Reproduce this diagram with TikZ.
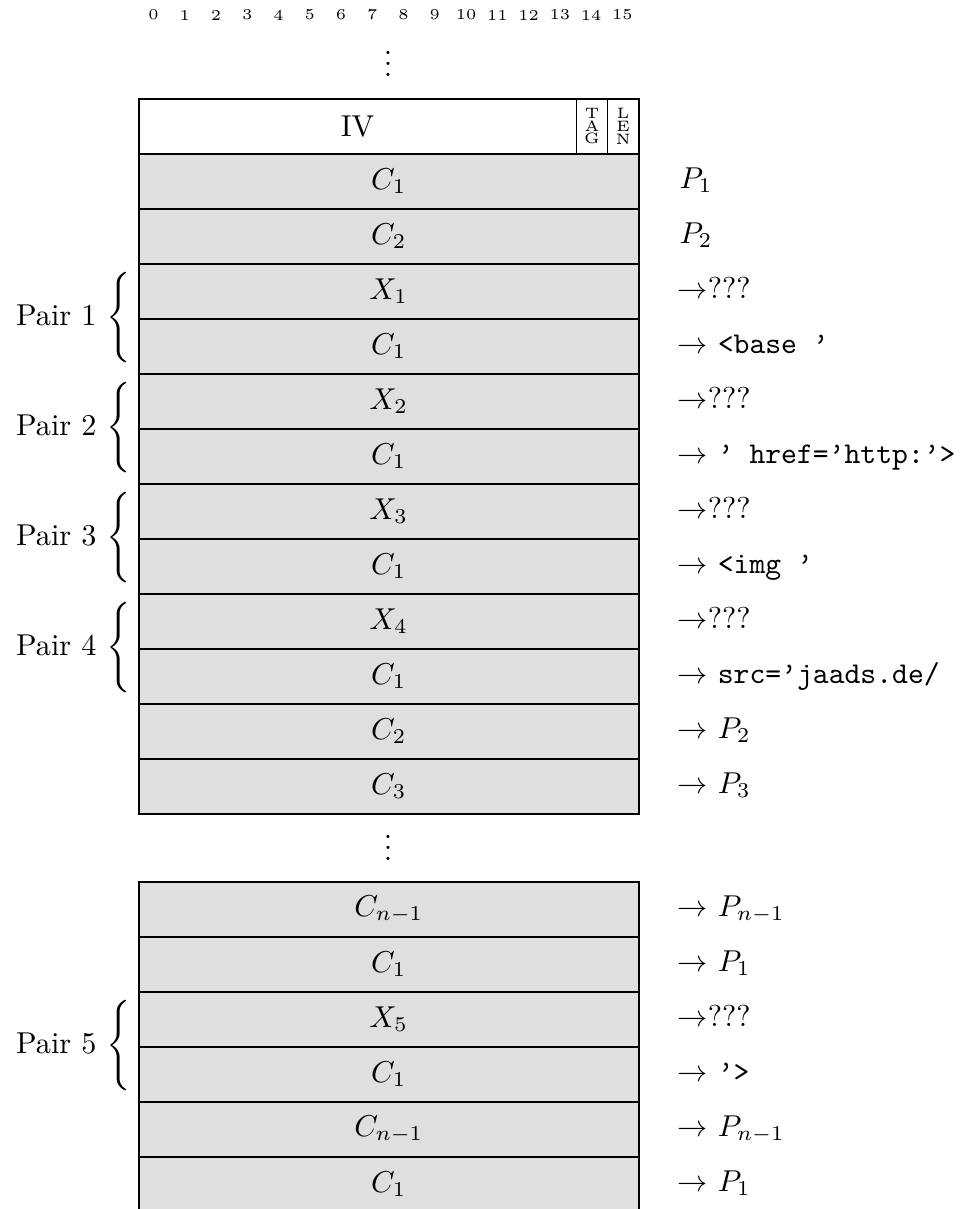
\documentclass[tikz,border=0pt]{standalone}
\begin{document}
\def\unitpx{0.011638cm}
\begin{tikzpicture}[x=\unitpx,y=-\unitpx,
  cell/.style={draw, line width=0.5pt, fill=gray!25, minimum width=500*\unitpx,
    minimum height=55*\unitpx, inner sep=0pt, anchor=north west},
  ivcell/.style={draw, line width=0.5pt, fill=white, minimum height=55*\unitpx,
    inner sep=0pt, anchor=north west},
  tinycol/.style={align=center, font=\fontsize{5}{4.2}\selectfont},
  rlab/.style={anchor=base west, inner sep=0pt},
  pairlab/.style={anchor=east, inner sep=0pt},
  ruler/.style={font=\tiny, inner sep=0pt},
  vdotsnode/.style={inner sep=0pt}]
\useasboundingbox (0,0) rectangle (969,1209);

% column numbers
\foreach \n in {0,...,15}
  \node[ruler] (col\n) at ({153.6+31.25*\n},15) {\n};

% continuation dots
\newcommand{\threedots}{\vbox{\baselineskip=3.6pt\lineskiplimit=-5pt
  \hbox{.}\hbox{.}\hbox{.}}}
\node[vdotsnode] (dotsA) at (388,64) {\threedots};

% header: IV, TAG, LEN
\node[ivcell, minimum width=437.6*\unitpx] (iv) at (138,98) {IV};
\node[ivcell, tinycol, minimum width=31.3*\unitpx] (tag) at (575.6,98) {T\\A\\G};
\node[ivcell, tinycol, minimum width=31.1*\unitpx] (len) at (606.9,98) {L\\E\\N};

% upper block of ciphertext blocks
\node[cell] (u1)  at (138,153) {$C_1$};
\node[cell] (u2)  at (138,208) {$C_2$};
\node[cell] (u3)  at (138,263) {$X_1$};
\node[cell] (u4)  at (138,318) {$C_1$};
\node[cell] (u5)  at (138,373) {$X_2$};
\node[cell] (u6)  at (138,428) {$C_1$};
\node[cell] (u7)  at (138,483) {$X_3$};
\node[cell] (u8)  at (138,538) {$C_1$};
\node[cell] (u9)  at (138,593) {$X_4$};
\node[cell] (u10) at (138,648) {$C_1$};
\node[cell] (u11) at (138,703) {$C_2$};
\node[cell] (u12) at (138,758) {$C_3$};

% decrypted plaintext, upper block
\node[rlab] (p1)  at (679,188) {$P_1$};
\node[rlab] (p2)  at (679,243) {$P_2$};
\node[rlab] (p3)  at (677,298) {$\rightarrow$???};
\node[rlab] (p4)  at (677,353) {$\rightarrow$ \texttt{<base ’}};
\node[rlab] (p5)  at (677,408) {$\rightarrow$???};
\node[rlab] (p6)  at (677,463) {$\rightarrow$ \texttt{’ href=’http:’>}};
\node[rlab] (p7)  at (677,518) {$\rightarrow$???};
\node[rlab] (p8)  at (677,573) {$\rightarrow$ \texttt{<img ’}};
\node[rlab] (p9)  at (677,628) {$\rightarrow$???};
\node[rlab] (p10) at (677,683) {$\rightarrow$ \texttt{src=’jaads.de/}};
\node[rlab] (p11) at (677,738) {$\rightarrow$ $P_2$};
\node[rlab] (p12) at (677,793) {$\rightarrow$ $P_3$};

\node[vdotsnode] (dotsB) at (388,848) {\threedots};

% lower block of ciphertext blocks
\node[cell] (l1) at (138,881)  {$C_{n-1}$};
\node[cell] (l2) at (138,936)  {$C_1$};
\node[cell] (l3) at (138,991)  {$X_5$};
\node[cell] (l4) at (138,1046) {$C_1$};
\node[cell] (l5) at (138,1101) {$C_{n-1}$};
\node[cell] (l6) at (138,1156) {$C_1$};

% decrypted plaintext, lower block
\node[rlab] (q1) at (677,916)  {$\rightarrow$ $P_{n-1}$};
\node[rlab] (q2) at (677,971)  {$\rightarrow$ $P_1$};
\node[rlab] (q3) at (677,1026) {$\rightarrow$???};
\node[rlab] (q4) at (677,1081) {$\rightarrow$ \texttt{’>}};
\node[rlab] (q5) at (677,1136) {$\rightarrow$ $P_{n-1}$};
\node[rlab] (q6) at (677,1191) {$\rightarrow$ $P_1$};

% pair braces
\newcommand{\pairbrace}{$\left\{\rule[-11.75pt]{0pt}{28.5pt}\right.$}
\node[pairlab] (pair1) at (135,318)  {Pair 1 \pairbrace};
\node[pairlab] (pair2) at (135,428)  {Pair 2 \pairbrace};
\node[pairlab] (pair3) at (135,538)  {Pair 3 \pairbrace};
\node[pairlab] (pair4) at (135,648)  {Pair 4 \pairbrace};
\node[pairlab] (pair5) at (135,1046) {Pair 5 \pairbrace};
\end{tikzpicture}
\end{document}
